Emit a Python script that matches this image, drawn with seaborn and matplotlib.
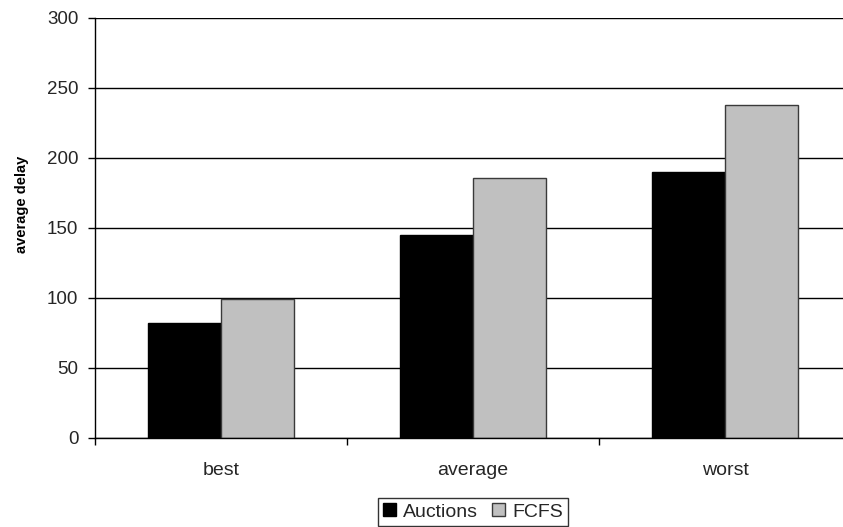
import matplotlib
matplotlib.use("Agg")
import matplotlib.pyplot as plt
import seaborn as sns
import pandas as pd

cases = ["best", "average", "worst"]
auctions = [82, 145, 190]
fcfs = [99, 186, 238]
methods = ["Auctions", "FCFS"]
y_ticks = [0, 50, 100, 150, 200, 250, 300]

df = pd.DataFrame({
    "case": cases * 2,
    "delay": auctions + fcfs,
    "method": [methods[0]] * len(cases) + [methods[1]] * len(cases),
})

sns.set_theme(style="white")
plt.rcParams["font.family"] = ["Liberation Sans", "DejaVu Sans"]

W, H = 843, 527
fig = plt.figure(figsize=(W / 100, H / 100), dpi=100)
# plot area runs slightly past the right edge of the canvas
ax = fig.add_axes([95 / W, 89 / H, 756 / W, 420 / H])

sns.barplot(
    data=df, x="case", y="delay", hue="method", order=cases, hue_order=methods,
    palette=["#000000", "#C0C0C0"], width=0.58, gap=0, saturation=1,
    edgecolor="#3a3a3a", linewidth=1.0, ax=ax, legend=False, errorbar=None,
)
for patch in ax.patches[:len(cases)]:
    patch.set_edgecolor("#000000")

ax.set_axisbelow(True)
ax.set_ylim(0, 300)
ax.set_xlim(-0.5, 2.5)
ax.set_yticks(y_ticks)
ax.yaxis.grid(True, color="black", linewidth=1.0)
ax.xaxis.grid(False)

for side in ("top", "right"):
    ax.spines[side].set_visible(False)
for side in ("left", "bottom"):
    ax.spines[side].set_color("black")
    ax.spines[side].set_linewidth(1.0)

ax.tick_params(axis="y", which="major", direction="out", length=5, width=1,
               color="black", labelsize=13.5, pad=7, left=True)
ax.tick_params(axis="x", which="major", length=0, labelsize=14, pad=17)
ax.set_xticks([-0.5, 0.5, 1.5, 2.5], minor=True)
ax.tick_params(axis="x", which="minor", direction="out", length=5, width=1,
               color="black", bottom=True)

ax.set_xlabel("")
ax.set_ylabel("")
fig.text(22 / W, 1 - 204 / H, "average delay", rotation=90, ha="center",
         va="center", fontsize=10.5, fontweight="bold", color="black")

handles = [
    plt.Rectangle((0, 0), 1, 1, facecolor="#000000", edgecolor="#000000", linewidth=1),
    plt.Rectangle((0, 0), 1, 1, facecolor="#C0C0C0", edgecolor="#3a3a3a", linewidth=1),
]
leg = fig.legend(handles, methods, loc="lower center",
                 bbox_to_anchor=(473 / W, 1.5 / H),
                 ncol=2, fontsize=14, frameon=True, fancybox=False,
                 handlelength=0.67, handleheight=0.67, handletextpad=0.35,
                 columnspacing=0.75, borderpad=0.25, borderaxespad=0.0)
leg.get_frame().set_edgecolor("black")
leg.get_frame().set_linewidth(1.0)

fig.savefig("out.png", dpi=100)
